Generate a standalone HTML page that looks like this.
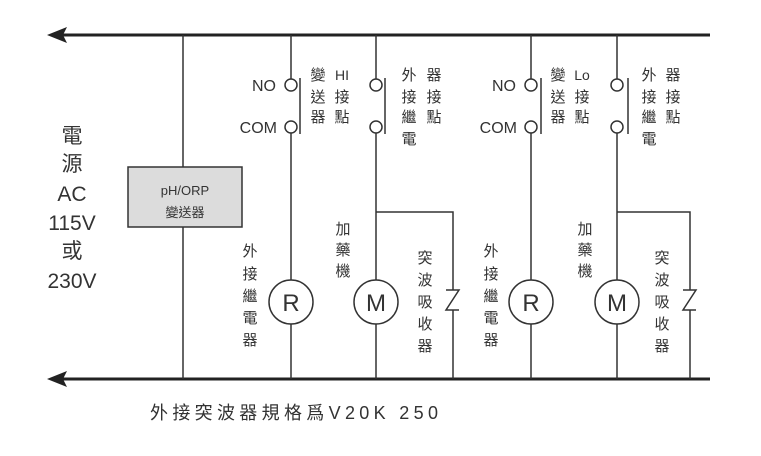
<!DOCTYPE html>
<html><head><meta charset="utf-8"><style>
body{margin:0;background:#fff;}
svg text{font-family:"Liberation Sans","Noto Sans CJK TC",sans-serif;fill:#333;}
</style></head><body>
<svg width="761" height="451" viewBox="0 0 761 451" xmlns="http://www.w3.org/2000/svg">
<g stroke="#222" fill="none">
<line x1="60" y1="35" x2="710" y2="35" stroke-width="3"/>
<line x1="60" y1="379" x2="710" y2="379" stroke-width="3"/>
</g>
<polygon points="47,35 67,27 63,35 67,43" fill="#222"/>
<polygon points="47,379 67,371 63,379 67,387" fill="#222"/>
<g stroke="#333" stroke-width="1.5" fill="none">
<line x1="183" y1="35" x2="183" y2="167"/>
<line x1="183" y1="227" x2="183" y2="379"/>
<line x1="291" y1="35" x2="291" y2="79"/>
<line x1="291" y1="133" x2="291" y2="280"/>
<line x1="291" y1="324" x2="291" y2="379"/>
<circle cx="291" cy="85" r="6"/><circle cx="291" cy="127" r="6"/>
<line x1="300" y1="78" x2="300" y2="134"/>
<line x1="376" y1="35" x2="376" y2="79"/>
<line x1="376" y1="133" x2="376" y2="280"/>
<line x1="376" y1="324" x2="376" y2="379"/>
<circle cx="376" cy="85" r="6"/><circle cx="376" cy="127" r="6"/>
<line x1="385" y1="78" x2="385" y2="134"/>
<polyline points="376,212 453,212 453,290"/>
<polyline points="446,290 459,290 446,310 459,310"/>
<line x1="453" y1="310" x2="453" y2="379"/>
<circle cx="291" cy="302" r="22"/><circle cx="376" cy="302" r="22"/>
<line x1="531" y1="35" x2="531" y2="79"/>
<line x1="531" y1="133" x2="531" y2="280"/>
<line x1="531" y1="324" x2="531" y2="379"/>
<circle cx="531" cy="85" r="6"/><circle cx="531" cy="127" r="6"/>
<line x1="541" y1="78" x2="541" y2="134"/>
<line x1="617" y1="35" x2="617" y2="79"/>
<line x1="617" y1="133" x2="617" y2="280"/>
<line x1="617" y1="324" x2="617" y2="379"/>
<circle cx="617" cy="85" r="6"/><circle cx="617" cy="127" r="6"/>
<line x1="628" y1="78" x2="628" y2="134"/>
<polyline points="617,212 690,212 690,290"/>
<polyline points="683,290 696,290 683,310 696,310"/>
<line x1="690" y1="310" x2="690" y2="379"/>
<circle cx="531" cy="302" r="22"/><circle cx="617" cy="302" r="22"/>
</g>
<rect x="128" y="167" width="114" height="60" fill="#dcdcdc" stroke="#333" stroke-width="1.5"/>
<text x="185" y="195" font-size="13" text-anchor="middle">pH/ORP</text>
<text x="185" y="217" font-size="13" text-anchor="middle">變送器</text>
<g font-size="21" text-anchor="middle">
<text x="72" y="143">電</text><text x="72" y="171">源</text>
<text x="72" y="201">AC</text><text x="72" y="230">115V</text>
<text x="72" y="258">或</text><text x="72" y="288">230V</text>
</g>
<g font-size="24" text-anchor="middle" fill="#222">
<text x="291" y="311">R</text><text x="376" y="311">M</text>
<text x="531" y="311">R</text><text x="617" y="311">M</text>
</g>
<g font-size="16" text-anchor="end">
<text x="276" y="91">NO</text><text x="277" y="133">COM</text>
<text x="516" y="91">NO</text><text x="517" y="133">COM</text>
</g>
<g font-size="15" text-anchor="middle">
<text x="318" y="80">變</text><text x="342" y="80" font-size="14">HI</text>
<text x="318" y="102">送</text><text x="342" y="102">接</text>
<text x="318" y="122">器</text><text x="342" y="122">點</text>
<text x="409" y="80">外</text><text x="434" y="80">器</text>
<text x="409" y="102">接</text><text x="434" y="102">接</text>
<text x="409" y="122">繼</text><text x="434" y="122">點</text>
<text x="409" y="144">電</text>
<text x="558" y="80">變</text><text x="582" y="80" font-size="14">Lo</text>
<text x="558" y="102">送</text><text x="582" y="102">接</text>
<text x="558" y="122">器</text><text x="582" y="122">點</text>
<text x="649" y="80">外</text><text x="673" y="80">器</text>
<text x="649" y="102">接</text><text x="673" y="102">接</text>
<text x="649" y="122">繼</text><text x="673" y="122">點</text>
<text x="649" y="144">電</text>
<text x="250" y="256">外</text><text x="250" y="279">接</text><text x="250" y="301">繼</text><text x="250" y="323">電</text><text x="250" y="345">器</text>
<text x="491" y="256">外</text><text x="491" y="279">接</text><text x="491" y="301">繼</text><text x="491" y="323">電</text><text x="491" y="345">器</text>
<text x="343" y="234">加</text><text x="343" y="255">藥</text><text x="343" y="276">機</text>
<text x="585" y="234">加</text><text x="585" y="255">藥</text><text x="585" y="276">機</text>
<text x="425" y="263">突</text><text x="425" y="285">波</text><text x="425" y="307">吸</text><text x="425" y="329">收</text><text x="425" y="351">器</text>
<text x="662" y="263">突</text><text x="662" y="285">波</text><text x="662" y="307">吸</text><text x="662" y="329">收</text><text x="662" y="351">器</text>
</g>
<text x="150" y="419" font-size="18" textLength="288" lengthAdjust="spacing">外接突波器規格爲V20K 250</text>
</svg>
</body></html>
